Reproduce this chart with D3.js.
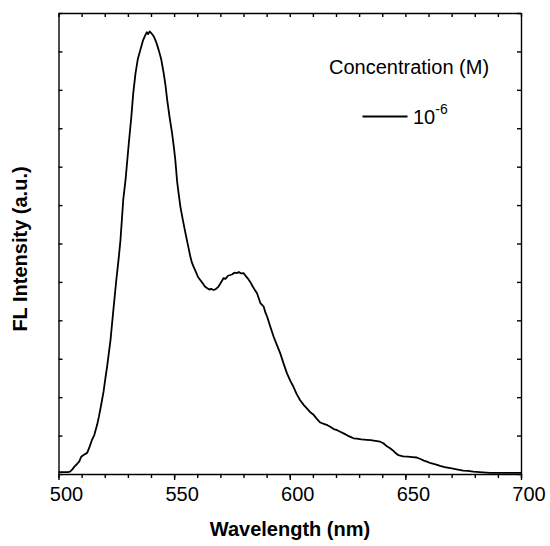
<!DOCTYPE html>
<html>
<head>
<meta charset="utf-8">
<script src="https://cdn.jsdelivr.net/npm/d3@7"></script>
<style>
  html, body { margin: 0; padding: 0; background: #fff; overflow: hidden; }
  svg { display: block; font-family: "Liberation Sans", Arial, sans-serif; }
</style>
</head>
<body>
<div id="chart"></div>
<script>
// wavelength (nm) and fluorescence intensity (a.u.)
const wavelength = [
  500, 502, 504, 505, 506, 507, 508, 509, 509.8, 511, 512.4, 513.5, 514.5, 515.5, 516.7,
  517.5, 518.3, 519.5, 520.3, 521, 522.5, 523.6, 524.3, 525, 526, 526.8, 528, 529, 530.4,
  531.5, 532.3, 533.3, 534.3, 535.4, 536.5, 537.6, 538.2, 538.8, 539.4, 540, 540.6, 541.2,
  542.2, 543.3, 544.4, 545.5, 546.3, 547, 548, 549.1, 550, 550.5, 551.3, 552, 552.7, 553.8,
  554.9, 556, 557, 557.7, 558.4, 559.5, 560.4, 561.3, 562.5, 563.3, 564.2, 565.2, 566,
  567.1, 568, 569.2, 570.2, 571.4, 572.2, 573.3, 574.3, 575.2, 576, 577.2, 578, 579, 580,
  581, 582, 582.9, 584, 585, 585.8, 587.3, 588.7, 589.5, 590.2, 591.5, 593, 594.5, 595.9,
  597.3, 598.8, 600.2, 601.6, 603, 604.5, 606, 607.5, 609, 610.3, 611.8, 613.2, 615, 616.3,
  617.5, 619, 620.5, 621.8, 623.5, 625, 626.5, 627.6, 629, 631, 633.3, 635, 637, 639.1,
  640.5, 642, 643.4, 644.5, 645.5, 647, 649, 651, 653, 654.9, 656.5, 658, 659.3, 661, 663,
  665, 667, 669.5, 672.2, 675, 677, 679.4, 682, 686.6, 690, 695, 700
];
const intensity = [
  0.05, 0.05, 0.05, 0.06, 0.12, 0.2, 0.26, 0.33, 0.45, 0.5, 0.55, 0.72, 0.89, 1.02, 1.28,
  1.5, 1.75, 2.15, 2.5, 2.79, 3.49, 4.19, 4.62, 5.05, 5.6, 6.09, 7.14, 7.66, 8.61,
  9.3, 9.9, 10.43, 10.8, 11.04, 11.28, 11.43, 11.5, 11.45, 11.52, 11.48, 11.44, 11.39,
  11.25, 11.04, 10.8, 10.43, 10.1, 9.74, 9.3, 8.88, 8.45, 8.18, 7.61, 7.28, 6.96, 6.6,
  6.27, 5.95, 5.66, 5.5, 5.4, 5.25, 5.12, 5.05, 4.95, 4.88, 4.84, 4.8, 4.82,
  4.79, 4.81, 4.88, 4.98, 5.1, 5.08, 5.16, 5.18, 5.2, 5.24, 5.23, 5.26, 5.22, 5.23,
  5.15, 5.08, 5.0, 4.88, 4.78, 4.71, 4.45, 4.36, 4.2, 4.1, 3.85, 3.58, 3.35, 3.14,
  2.88, 2.62, 2.43, 2.27, 2.08, 1.92, 1.8, 1.7, 1.6, 1.54, 1.43, 1.34, 1.3, 1.27,
  1.23, 1.17, 1.14, 1.1, 1.05, 1.0, 0.96, 0.93, 0.92, 0.9, 0.89, 0.88, 0.86, 0.84,
  0.8, 0.72, 0.67, 0.62, 0.56, 0.49, 0.46, 0.45, 0.44, 0.43, 0.39, 0.35, 0.32, 0.28, 0.25,
  0.21, 0.18, 0.15, 0.12, 0.09, 0.08, 0.06, 0.05, 0.03, 0.03, 0.03, 0.03
];
const xMajorTicks = [500, 550, 600, 650, 700];
const xMinorTicks = d3.range(500, 701, 10);
const yTicks = d3.range(0, 13, 1);
const legendTitle = "Concentration (M)";
const seriesName = ["10", "-6"];

const width = 550, height = 546;
const margin = { top: 13, right: 29, bottom: 72, left: 58.5 };
const innerWidth = width - margin.left - margin.right;
const innerHeight = height - margin.top - margin.bottom;
const fontFamily = '"Liberation Sans", Arial, sans-serif';

const svg = d3.select("#chart")
  .append("svg")
  .attr("width", width)
  .attr("height", height);

const innerChart = svg.append("g")
  .attr("transform", `translate(${margin.left}, ${margin.top})`);

// scales
const xScale = d3.scaleLinear().domain([500, 700]).range([0, innerWidth]);
const yScale = d3.scaleLinear().domain([0, 12]).range([innerHeight, 0]);

// minor ticks (outward at the bottom, inward elsewhere)
innerChart.append("g")
  .attr("transform", `translate(0, ${innerHeight})`)
  .call(d3.axisBottom(xScale).tickValues(xMinorTicks).tickSize(4).tickSizeOuter(0).tickFormat(""))
  .call(g => g.select(".domain").remove())
  .call(g => g.selectAll("text").remove());

const xAxis = innerChart.append("g")
  .attr("transform", `translate(0, ${innerHeight})`)
  .call(d3.axisBottom(xScale).tickValues(xMajorTicks).tickSize(6).tickSizeOuter(0).tickPadding(7));
xAxis.attr("font-family", fontFamily).attr("font-size", 20);
xAxis.selectAll("text")
  .attr("dx", 7.5)
  .attr("fill", "#000");

innerChart.append("g")
  .call(d3.axisTop(xScale).tickValues(xMinorTicks).tickSize(-4).tickSizeOuter(0).tickFormat(""))
  .call(g => g.selectAll("text").remove());

innerChart.append("g")
  .call(d3.axisLeft(yScale).tickValues(yTicks).tickSize(-4).tickSizeOuter(0).tickFormat(""))
  .call(g => g.selectAll("text").remove());

innerChart.append("g")
  .attr("transform", `translate(${innerWidth}, 0)`)
  .call(d3.axisRight(yScale).tickValues(yTicks).tickSize(-4).tickSizeOuter(0).tickFormat(""))
  .call(g => g.selectAll("text").remove());

innerChart.selectAll(".domain, .tick line")
  .attr("stroke", "#000")
  .attr("stroke-width", 1.4);

// spectrum line
const points = wavelength.map((w, i) => [w, intensity[i]]);
const line = d3.line()
  .x(d => xScale(d[0]))
  .y(d => yScale(d[1]));

innerChart.append("path")
  .datum(points)
  .attr("fill", "none")
  .attr("stroke", "#000")
  .attr("stroke-width", 1.8)
  .attr("stroke-linejoin", "round")
  .attr("d", line);

// axis labels
svg.append("text")
  .text("Wavelength (nm)")
  .attr("x", 290)
  .attr("y", 536)
  .attr("text-anchor", "middle")
  .attr("font-size", "20px")
  .attr("font-weight", "bold");

svg.append("text")
  .text("FL Intensity (a.u.)")
  .attr("transform", "translate(27, 249) rotate(-90)")
  .attr("text-anchor", "middle")
  .attr("font-size", "20px")
  .attr("font-weight", "bold");

// legend
svg.append("text")
  .text(legendTitle)
  .attr("x", 329)
  .attr("y", 74)
  .attr("font-size", "20px");

svg.append("line")
  .attr("x1", 362.5)
  .attr("x2", 407.5)
  .attr("y1", 116.5)
  .attr("y2", 116.5)
  .attr("stroke", "#000")
  .attr("stroke-width", 1.8);

const legendLabel = svg.append("text")
  .attr("x", 413)
  .attr("y", 123.5)
  .attr("font-size", "20px");
legendLabel.append("tspan").text(seriesName[0]);
legendLabel.append("tspan")
  .attr("dy", -10)
  .attr("font-size", "14px")
  .text(seriesName[1]);
</script>
</body>
</html>
